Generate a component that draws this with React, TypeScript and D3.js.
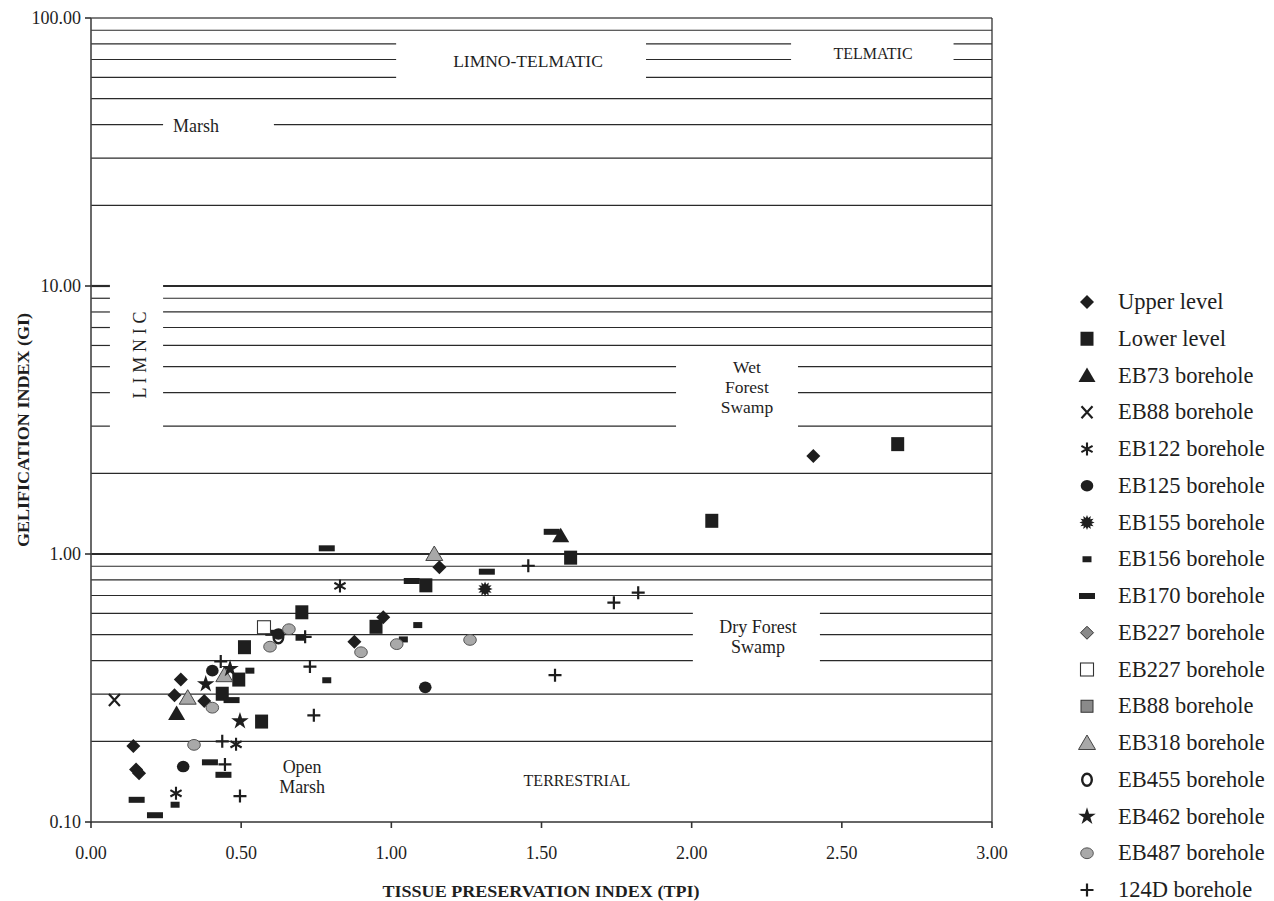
import React from 'react';
import * as d3 from 'd3';

// axis ticks
const TPI_TICKS = [0, 0.5, 1, 1.5, 2, 2.5, 3];
const GI_TICKS = [0.1, 1, 10, 100];

// horizontal facies lines (GI values) and the gaps left for labels (TPI ranges)
const GRID_GI = [90, 80, 70, 60, 50, 40, 30, 20, 10, 9, 8, 7, 6, 5, 4, 3, 2, 1, 0.9, 0.8, 0.7, 0.6, 0.5, 0.4, 0.3, 0.2];
const HEAVY_GI = [10, 1];
const GAP_LIMNO = [1.016, 1.848];
const GAP_TELMATIC = [2.331, 2.872];
const GAP_MARSH = [0.24, 0.609];
const GAP_LIMNIC = [0.063, 0.24];
const GAP_WET = [1.948, 2.354];
const GAP_DRY = [2.004, 2.427];

const gaps = [
  { lines: [80, 70, 60], tpi: GAP_LIMNO },
  { lines: [80, 70], tpi: GAP_TELMATIC },
  { lines: [40], tpi: GAP_MARSH },
  { lines: [10, 9, 8, 7, 6, 5, 4, 3], tpi: GAP_LIMNIC },
  { lines: [5, 4, 3], tpi: GAP_WET },
  { lines: [0.6, 0.5, 0.4], tpi: GAP_DRY },
];

// facies labels: text lines, position in data units
const REGION_LABELS = [
  { text: ['LIMNO-TELMATIC'], tpi: 1.455, gi: 69, size: 17.5 },
  { text: ['TELMATIC'], tpi: 2.604, gi: 74, size: 16 },
  { text: ['Marsh'], tpi: 0.35, gi: 39.6, size: 18 },
  { text: ['Wet', 'Forest', 'Swamp'], tpi: 2.184, gi: 4.2, size: 17.5 },
  { text: ['Dry Forest', 'Swamp'], tpi: 2.221, gi: 0.49, size: 18 },
  { text: ['Open', 'Marsh'], tpi: 0.703, gi: 0.147, size: 18 },
  { text: ['TERRESTRIAL'], tpi: 1.618, gi: 0.1435, size: 16 },
];

// series: [TPI, GI]
const UPPER_LEVEL = [[0.141, 0.192], [0.150, 0.157], [0.160, 0.152], [0.299, 0.34], [0.278, 0.297], [0.377, 0.283], [0.877, 0.471], [0.973, 0.581], [1.16, 0.892], [2.405, 2.32]];
const LOWER_LEVEL = [[0.702, 0.606], [0.511, 0.449], [0.492, 0.34], [0.437, 0.301], [0.568, 0.237], [1.115, 0.764], [0.949, 0.535], [1.597, 0.969], [2.067, 1.33], [2.686, 2.57]];
const EB73 = [[0.285, 0.254], [1.564, 1.17]];
const EB88 = [[0.078, 0.285]];
const EB122 = [[0.283, 0.128], [0.483, 0.195], [0.829, 0.76]];
const EB125 = [[0.307, 0.161], [0.404, 0.367], [0.624, 0.503], [1.113, 0.318]];
const EB155 = [[1.312, 0.74]];
const EB156 = [[0.28, 0.116], [0.529, 0.367], [0.785, 0.338], [1.088, 0.543], [1.04, 0.48], [0.696, 0.487]];
const EB170 = [[0.152, 0.121], [0.213, 0.106], [0.396, 0.167], [0.441, 0.15], [0.468, 0.285], [0.607, 0.508], [0.785, 1.05], [1.068, 0.793], [1.318, 0.859], [1.534, 1.21]];
const EB227_GREY = [];
const EB227_OPEN = [[0.576, 0.533]];
const EB88_GREY = [];
const EB318 = [[0.322, 0.291], [0.444, 0.353], [1.143, 1.0]];
const EB455 = [[0.624, 0.489]];
const EB462 = [[0.382, 0.327], [0.463, 0.373], [0.496, 0.238]];
const EB487 = [[0.343, 0.194], [0.404, 0.267], [0.596, 0.451], [0.659, 0.524], [0.899, 0.43], [1.018, 0.461], [1.262, 0.478]];
const BH124D = [[0.496, 0.125], [0.437, 0.2], [0.446, 0.164], [0.432, 0.397], [0.713, 0.491], [0.729, 0.38], [0.742, 0.25], [1.456, 0.904], [1.545, 0.353], [1.741, 0.658], [1.822, 0.717]];

const LEGEND_NAMES = ['Upper level', 'Lower level', 'EB73 borehole', 'EB88 borehole', 'EB122 borehole', 'EB125 borehole', 'EB155 borehole', 'EB156 borehole', 'EB170 borehole', 'EB227 borehole', 'EB227 borehole', 'EB88 borehole', 'EB318 borehole', 'EB455 borehole', 'EB462 borehole', 'EB487 borehole', '124D borehole'];
const LEGEND_KINDS = ['diamond', 'square', 'triangle', 'x', 'asterisk', 'dot', 'burst', 'dash', 'bar', 'greyDiamond', 'openSquare', 'greySquare', 'greyTriangle', 'ring', 'star', 'greyDot', 'plus'];
const SERIES = [UPPER_LEVEL, LOWER_LEVEL, EB73, EB88, EB122, EB125, EB155, EB156, EB170, EB227_GREY, EB227_OPEN, EB88_GREY, EB318, EB455, EB462, EB487, BH124D];

const W = 1274, H = 901;
const x = d3.scaleLinear().domain([0, 3]).range([91, 992]);
const y = d3.scaleLog().domain([0.1, 100]).range([822, 18]);
const fmt = d3.format('.2f');
const SERIF = '"Liberation Serif", "Times New Roman", serif';
const INK = '#1e1e1e';

const starPath = d3.symbol(d3.symbolStar, 95)();
const burstPath = (() => {
  const pts: [number, number][] = d3.range(24).map(i => {
    const r = i % 2 ? 4.6 : 7.6;
    const a = (i * Math.PI) / 12;
    return [r * Math.sin(a), -r * Math.cos(a)];
  });
  return d3.line()(pts) + 'Z';
})();

function Marker({ kind, cx, cy }: { kind: string; cx: number; cy: number }) {
  const t = `translate(${cx},${cy})`;
  switch (kind) {
    case 'diamond':
      return <path transform={t} d="M0,-7L7,0L0,7L-7,0Z" fill={INK} />;
    case 'greyDiamond':
      return <path transform={t} d="M0,-6.5L6.5,0L0,6.5L-6.5,0Z" fill="#8a8a8a" stroke="#333" strokeWidth={1} />;
    case 'square':
      return <rect transform={t} x={-6.5} y={-7} width={13} height={14} fill={INK} />;
    case 'openSquare':
      return <rect transform={t} x={-6.5} y={-6.5} width={13} height={13} fill="#fff" stroke="#333" strokeWidth={1.1} />;
    case 'greySquare':
      return <rect transform={t} x={-6} y={-6} width={12} height={12} fill="#8a8a8a" stroke="#333" strokeWidth={1} />;
    case 'triangle':
      return <path transform={t} d="M0,-8L8.5,6.5L-8.5,6.5Z" fill={INK} />;
    case 'greyTriangle':
      return <path transform={t} d="M0,-8L8.5,6.5L-8.5,6.5Z" fill="#a8a8a8" stroke="#444" strokeWidth={1} />;
    case 'x':
      return <path transform={t} d="M-5.5,-6L5.5,6M-5.5,6L5.5,-6" stroke={INK} strokeWidth={2.2} />;
    case 'asterisk':
      return <path transform={t} d="M0,-6.5V6.5M-5.6,-3.2L5.6,3.2M-5.6,3.2L5.6,-3.2" stroke={INK} strokeWidth={2.1} />;
    case 'dot':
      return <ellipse transform={t} rx={6.3} ry={5.8} fill={INK} />;
    case 'greyDot':
      return <ellipse transform={t} rx={6.3} ry={5.4} fill="#a9a9a9" stroke="#555" strokeWidth={1} />;
    case 'ring':
      return <ellipse transform={t} rx={4.8} ry={6} fill="none" stroke={INK} strokeWidth={2.4} />;
    case 'burst':
      return <path transform={t} d={burstPath} fill={INK} />;
    case 'dash':
      return <rect transform={t} x={-4.5} y={-3} width={9} height={6} fill={INK} />;
    case 'bar':
      return <rect transform={t} x={-8} y={-3} width={16} height={6} fill={INK} />;
    case 'star':
      return <path transform={t} d={starPath || ''} fill={INK} />;
    case 'plus':
      return <path transform={t} d="M-6.5,0H6.5M0,-6.5V6.5" stroke={INK} strokeWidth={2.2} />;
    default:
      return null;
  }
}

// split a full-width line into segments around the label gaps
function segments(gi: number) {
  const cut = gaps.filter(g => g.lines.includes(gi)).map(g => g.tpi).sort((a, b) => a[0] - b[0]);
  const out: [number, number][] = [];
  let start = 0;
  cut.forEach(([a, b]) => {
    out.push([start, a]);
    start = b;
  });
  out.push([start, 3]);
  return out;
}

export default function App() {
  const [x0, x1] = x.range();
  const [yBottom, yTop] = y.range();
  return (
    <svg width={W} height={H} style={{ position: 'absolute', left: 0, top: 0, background: '#fff' }}>
      <rect width={W} height={H} fill="#fff" />

      {/* facies lines */}
      {GRID_GI.map(gi =>
        segments(gi).map(([a, b], i) => (
          <line
            key={`${gi}-${i}`}
            x1={x(a)}
            x2={x(b)}
            y1={y(gi)}
            y2={y(gi)}
            stroke="#2a2a2a"
            strokeWidth={HEAVY_GI.includes(gi) ? 2.2 : 1.2}
          />
        ))
      )}

      {/* frame */}
      <line x1={x0} x2={x1} y1={yTop} y2={yTop} stroke="#555" strokeWidth={1.6} />
      <line x1={x1} x2={x1} y1={yTop} y2={yBottom} stroke="#333" strokeWidth={1.3} />
      <line x1={x0} x2={x0} y1={yTop} y2={yBottom + 1} stroke="#444" strokeWidth={1.6} />
      <line x1={x0} x2={x1} y1={yBottom} y2={yBottom} stroke="#333" strokeWidth={1.6} />

      {/* y axis */}
      {GI_TICKS.map(v => (
        <g key={v}>
          <line x1={x0 - 6} x2={x0} y1={y(v)} y2={y(v)} stroke="#333" strokeWidth={1.6} />
          <text x={x0 - 10} y={y(v)} dy="0.35em" textAnchor="end" fontFamily={SERIF} fontSize={18} fill={INK}>
            {fmt(v)}
          </text>
        </g>
      ))}
      {/* x axis */}
      {TPI_TICKS.map(v => (
        <g key={v}>
          <line x1={x(v)} x2={x(v)} y1={yBottom} y2={yBottom + 6} stroke="#333" strokeWidth={1.6} />
          <text x={x(v)} y={853} dy="0.35em" textAnchor="middle" fontFamily={SERIF} fontSize={18} fill={INK}>
            {fmt(v)}
          </text>
        </g>
      ))}

      <text
        x={541}
        y={891}
        dy="0.35em"
        textAnchor="middle"
        fontFamily={SERIF}
        fontWeight="bold"
        fontSize={17.5}
        fill={INK}
        textLength={317}
        lengthAdjust="spacingAndGlyphs"
      >
        TISSUE PRESERVATION INDEX (TPI)
      </text>
      <text
        transform={`translate(23,430) rotate(-90)`}
        dy="0.35em"
        textAnchor="middle"
        fontFamily={SERIF}
        fontWeight="bold"
        fontSize={17}
        fill={INK}
        textLength={234}
        lengthAdjust="spacingAndGlyphs"
      >
        GELIFICATION INDEX (GI)
      </text>

      {/* region labels */}
      {REGION_LABELS.map(r => (
        <text key={r.text.join()} fontFamily={SERIF} fontSize={r.size} fill={INK} textAnchor="middle">
          {r.text.map((line, i) => (
            <tspan key={i} x={x(r.tpi)} y={y(r.gi) + (i - (r.text.length - 1) / 2) * 20} dy="0.35em">
              {line}
            </tspan>
          ))}
        </text>
      ))}
      <text
        transform={`translate(${x(0.163)},${y(5.53)}) rotate(-90)`}
        dy="0.35em"
        textAnchor="middle"
        fontFamily={SERIF}
        fontSize={18}
        fill={INK}
        textLength={87}
        lengthAdjust="spacing"
      >
        L I M N I C
      </text>

      {/* data */}
      {SERIES.map((pts, si) =>
        pts.map((p, i) => <Marker key={`${si}-${i}`} kind={LEGEND_KINDS[si]} cx={x(p[0])} cy={y(p[1])} />)
      )}

      {/* legend */}
      {LEGEND_NAMES.map((name, i) => {
        const ly = 302 + i * 36.75;
        return (
          <g key={i}>
            <Marker kind={LEGEND_KINDS[i]} cx={1087} cy={ly} />
            <text x={1118} y={ly} dy="0.32em" fontFamily={SERIF} fontSize={22.5} fill={INK}>
              {name}
            </text>
          </g>
        );
      })}
    </svg>
  );
}
